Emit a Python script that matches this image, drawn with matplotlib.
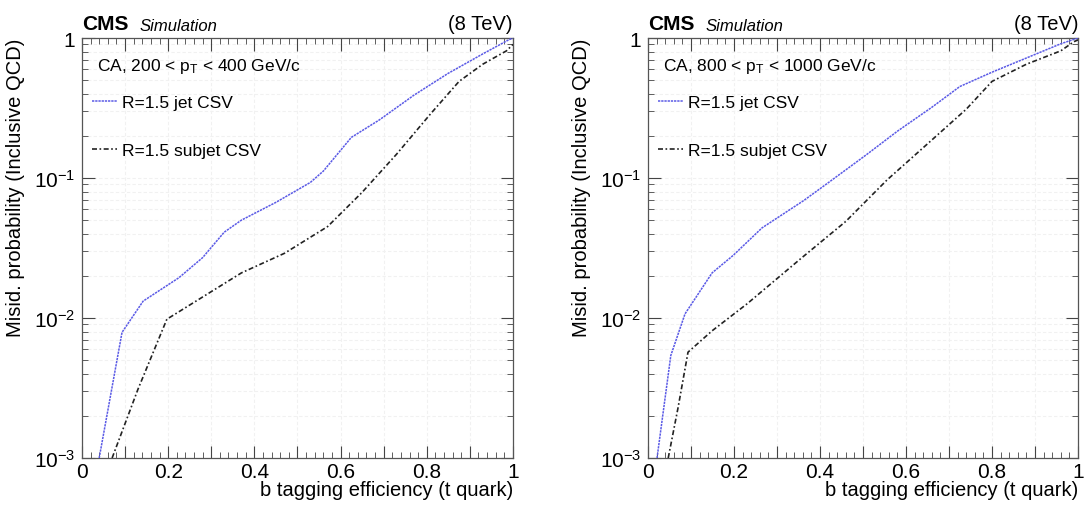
import matplotlib
matplotlib.use("Agg")
import matplotlib.pyplot as plt
import numpy as np
from matplotlib.ticker import MultipleLocator, LogLocator, NullFormatter, FixedLocator

plt.rcParams['font.family'] = ['Liberation Sans', 'DejaVu Sans']
plt.rcParams['mathtext.fontset'] = 'custom'
plt.rcParams['mathtext.rm'] = 'Liberation Sans'
plt.rcParams['mathtext.it'] = 'Liberation Sans:italic'

# Left panel: 200 < pT < 400
left_jet_x = [0.04, 0.093, 0.142, 0.225, 0.28, 0.33, 0.37, 0.45, 0.53, 0.56, 0.625, 0.69, 0.77, 0.85, 0.93, 0.99, 1.0]
left_jet_y = [0.001, 0.0079, 0.0132, 0.0194, 0.027, 0.041, 0.050, 0.067, 0.093, 0.112, 0.195, 0.26, 0.39, 0.56, 0.77, 0.97, 1.0]
left_sub_x = [0.07, 0.13, 0.197, 0.37, 0.47, 0.57, 0.65, 0.73, 0.81, 0.875, 0.93, 0.985, 1.0]
left_sub_y = [0.001, 0.0031, 0.0098, 0.021, 0.029, 0.045, 0.079, 0.148, 0.29, 0.49, 0.65, 0.81, 0.9]

# Right panel: 800 < pT < 1000
right_jet_x = [0.021, 0.053, 0.086, 0.149, 0.198, 0.265, 0.362, 0.418, 0.507, 0.58, 0.66, 0.725, 0.80, 0.88, 0.96, 1.0]
right_jet_y = [0.001, 0.0054, 0.0107, 0.021, 0.028, 0.044, 0.069, 0.092, 0.146, 0.216, 0.32, 0.45, 0.57, 0.72, 0.91, 1.0]
right_sub_x = [0.047, 0.07, 0.093, 0.149, 0.23, 0.358, 0.46, 0.556, 0.645, 0.74, 0.80, 0.88, 0.96, 0.99, 1.0]
right_sub_y = [0.001, 0.0023, 0.0057, 0.0081, 0.0126, 0.027, 0.049, 0.097, 0.17, 0.31, 0.49, 0.65, 0.81, 0.94, 0.97]

ranges = ["CA, 200 < p$_{\\mathregular{T}}$ < 400 GeV/c", "CA, 800 < p$_{\\mathregular{T}}$ < 1000 GeV/c"]
series_labels = ["R=1.5 jet CSV", "R=1.5 subjet CSV"]
xtick_labels = ["0", "", "0.2", "", "0.4", "", "0.6", "", "0.8", "", "1"]
yticks = [1e-3, 1e-2, 1e-1, 1]
ytick_labels = ["10$^{\\mathregular{-3}}$", "10$^{\\mathregular{-2}}$", "10$^{\\mathregular{-1}}$", "1"]

fig = plt.figure(figsize=(10.84, 5.06), dpi=100)
ax_pos = [[0.0756, 0.0929, 0.3976, 0.830], [0.5978, 0.0929, 0.3967, 0.830]]
data = [(left_jet_x, left_jet_y, left_sub_x, left_sub_y), (right_jet_x, right_jet_y, right_sub_x, right_sub_y)]

blue = '#5a5ae6'
grid_c = '#f1f1f1'
for i in range(2):
    ax = fig.add_axes(ax_pos[i])
    jx, jy, sx, sy = data[i]
    ax.set_yscale('log')
    ax.set_xlim(0, 1)
    ax.set_ylim(1e-3, 1)
    # grid
    for gx in np.arange(0.1, 1.0, 0.1):
        ax.axvline(gx, color=grid_c, lw=0.8, ls=(0, (3, 2)), zorder=0)
    for dec in [1e-3, 1e-2, 1e-1]:
        for m in range(1, 10):
            v = dec * m
            if 1e-3 < v < 1:
                ax.axhline(v, color=grid_c, lw=0.8, ls=(0, (3, 2)), zorder=0)
    l1, = ax.plot(jx, jy, color=blue, lw=1.1, ls=(0, (1.5, 0.6)), zorder=3)
    l2, = ax.plot(sx, sy, color='#222222', lw=1.2, ls=(0, (3, 1.5, 1, 1.5)), zorder=3)
    ax.set_xticks(np.arange(0, 1.01, 0.1))
    ax.set_xticklabels(xtick_labels)
    ax.xaxis.set_minor_locator(MultipleLocator(0.02))
    ax.yaxis.set_major_locator(FixedLocator(yticks))
    ax.set_yticklabels(ytick_labels)
    ax.yaxis.set_minor_locator(LogLocator(base=10, subs=np.arange(2, 10)))
    ax.yaxis.set_minor_formatter(NullFormatter())
    ax.tick_params(which='both', direction='in', top=True, right=True, labelsize=15, colors='#444444', labelcolor='black')
    ax.tick_params(which='major', length=9, width=0.8)
    ax.tick_params(which='minor', length=4.5, width=0.6)
    ax.tick_params(axis='x', which='major', pad=3)
    ax.tick_params(axis='y', which='major', pad=5)
    for sp in ax.spines.values():
        sp.set_color('#555555')
        sp.set_linewidth(0.9)
    ax.set_xlabel("b tagging efficiency (t quark)", fontsize=14.5, loc='right', labelpad=-1)
    ax.set_ylabel("Misid. probability (Inclusive QCD)", fontsize=14.5, loc='top', labelpad=6)
    ax.text(0.0, 1.012, "CMS", transform=ax.transAxes, fontsize=15, fontweight='bold', ha='left', va='bottom')
    ax.text(0.133, 1.012, "Simulation", transform=ax.transAxes, fontsize=12, style='italic', ha='left', va='bottom')
    ax.text(1.0, 1.012, "(8 TeV)", transform=ax.transAxes, fontsize=14.5, ha='right', va='bottom')
    ax.text(0.035, 0.935, ranges[i], transform=ax.transAxes, fontsize=12.5, ha='left', va='center')
    ax.legend([l1, l2], series_labels, loc='upper left', bbox_to_anchor=(0.0, 0.89), frameon=False,
              fontsize=12.5, handlelength=1.4, handletextpad=0.3, labelspacing=1.9, borderaxespad=0.2)

fig.savefig("out.png", dpi=100)
